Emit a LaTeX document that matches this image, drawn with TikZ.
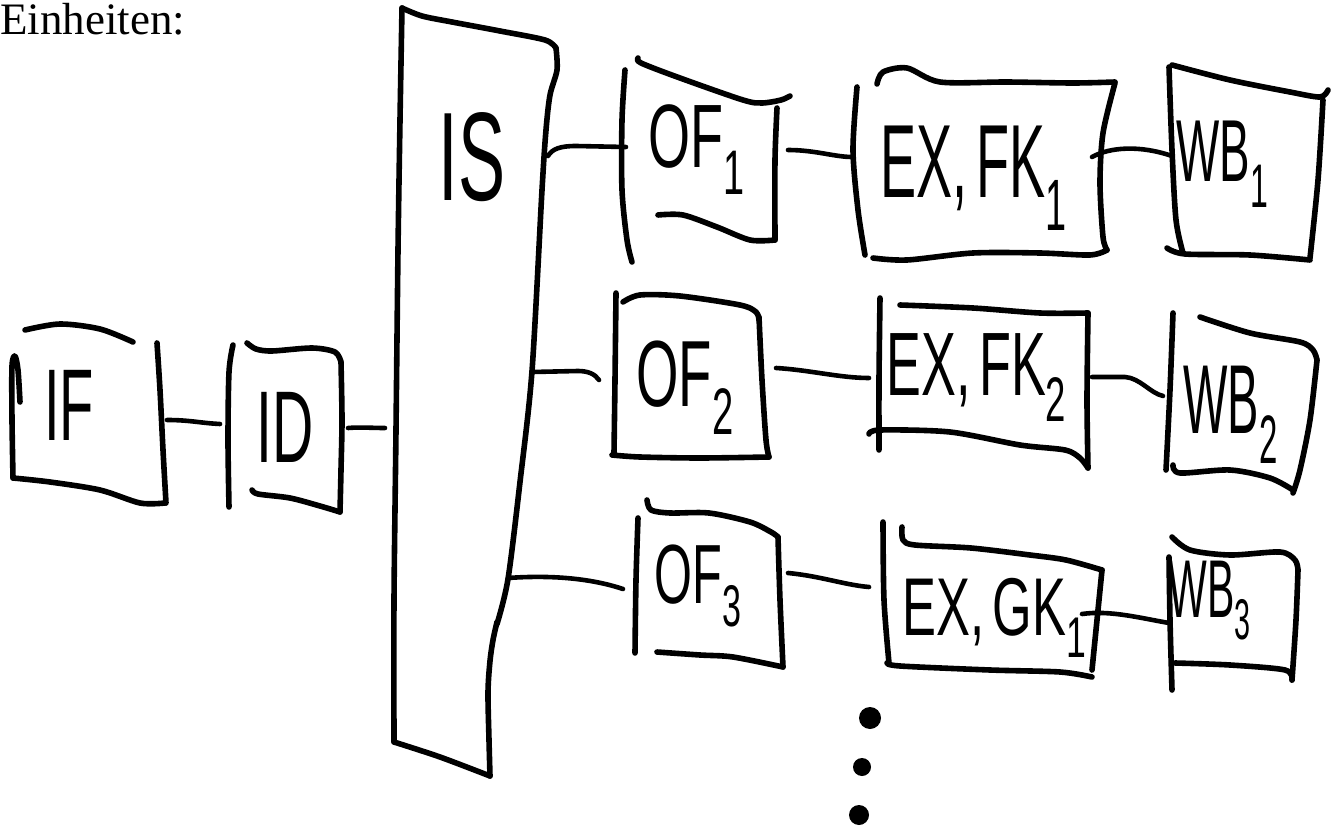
\documentclass[tikz,border=0pt]{standalone}
\usepackage{fontspec}
\setmainfont{Liberation Serif}
\newfontfamily\handfont{Liberation Sans}
\usetikzlibrary{fit}
\newcommand{\narrow}[2]{\scalebox{#1}[1]{#2}}

\tikzset{
  pen/.style={line width=2.8pt, line cap=round, line join=round},
  wire/.style={line width=2.3pt, line cap=round},
  area/.style={inner sep=0pt, outer sep=0pt, draw=none},
  hand/.style={font=\handfont\fontsize{#1}{#1}\selectfont, inner sep=0pt, anchor=base west},
}

\begin{document}
\begin{tikzpicture}[x=0.5pt,y=-0.5pt]
\useasboundingbox (0,0) rectangle (1334,829);

% heading
\node[anchor=base west, inner sep=0pt, font=\fontsize{22.5}{27}\selectfont] (head) at (0,35) {Einheiten:};

% ---------- logical areas of the units ----------
\node[area, fit={(12,325) (167,505)}]   (if)  {};
\node[area, fit={(220,343) (348,512)}]  (id)  {};
\node[area, fit={(385,8) (557,776)}]    (is)  {};
\node[area, fit={(626,58) (788,262)}]   (of1) {};
\node[area, fit={(852,70) (1092,262)}]  (ex1) {};
\node[area, fit={(1172,60) (1328,262)}] (wb1) {};
\node[area, fit={(599,292) (776,460)}]  (of2) {};
\node[area, fit={(869,298) (1092,470)}] (ex2) {};
\node[area, fit={(1163,313) (1317,493)}] (wb2) {};
\node[area, fit={(623,500) (788,667)}]  (of3) {};
\node[area, fit={(869,520) (1082,677)}] (ex3) {};
\node[area, fit={(1169,537) (1298,690)}] (wb3) {};

% ports on the slanted right side of the issue stage
\coordinate (is-r1) at (548,156);
\coordinate (is-r2) at (532,372);
\coordinate (is-r3) at (508,578);

% ---------- hand drawn outlines ----------
% IF
\draw[pen] plot[smooth] coordinates {(20,402) (18,370) (15,356) (12,366) (12,420) (13,478)};
\draw[pen] plot[smooth] coordinates {(13,478) (50,482) (100,490) (140,503) (165,503)};
\draw[pen] plot[smooth] coordinates {(157,343) (160,390) (163,450) (166,503)};
\draw[pen] plot[smooth] coordinates {(25,330) (60,324) (100,329) (133,342)};
% ID
\draw[pen] plot[smooth] coordinates {(233,345) (229,372) (228,440) (229,507)};
\draw[pen] plot[smooth] coordinates {(247,343) (256,349) (272,351) (312,348) (335,352) (341,362)};
\draw[pen] plot[smooth] coordinates {(341,362) (342,420) (341,470) (340,512)};
\draw[pen] plot[smooth] coordinates {(252,490) (258,494) (290,498) (320,506) (340,512)};
% IS
\draw[pen] plot[smooth] coordinates {(402,8) (422,16) (452,22) (500,31) (545,40) (556,48)};
\draw[pen] plot[smooth] coordinates {(556,48) (557,70) (550,95) (546,130) (542,190) (532,371) (520,482) (508,579) (497,624)};
\draw[pen] plot[smooth] coordinates {(497,622) (493,640) (490,661) (488,692) (489,740) (490,776)};
\draw[pen] plot[smooth] coordinates {(394,742) (440,757) (490,776)};
\draw[pen] plot[smooth] coordinates {(402,8) (400,120) (398,250) (396,430) (394,600) (394,742)};
% OF1
\draw[pen] plot[smooth] coordinates {(625,70) (622,120) (622,190) (627,240) (632,262)};
\draw[pen] plot[smooth] coordinates {(638,58) (641,63) (680,78) (743,100) (762,103) (781,100) (790,96)};
\draw[pen] plot[smooth] coordinates {(777,108) (775,160) (775,240)};
\draw[pen] plot[smooth] coordinates {(658,215) (683,215) (717,227) (750,240) (775,240)};
% EX,FK1
\draw[pen] plot[smooth] coordinates {(857,87) (853,150) (858,210) (865,255)};
\draw[pen] plot[smooth] coordinates {(877,84) (883,72) (907,68) (940,82) (1007,82) (1073,83) (1115,82)};
\draw[pen] plot[smooth] coordinates {(1115,83) (1103,133) (1100,183) (1103,237) (1107,250)};
\draw[pen] plot[smooth] coordinates {(873,258) (907,260) (973,253) (1040,253) (1090,255) (1107,250)};
% WB1
\draw[pen] plot[smooth] coordinates {(1169,67) (1172,150) (1176,220) (1183,253)};
\draw[pen] plot[smooth] coordinates {(1172,65) (1230,80) (1290,92) (1320,97) (1328,90)};
\draw[pen] plot[smooth] coordinates {(1323,100) (1318,180) (1310,258)};
\draw[pen] plot[smooth] coordinates {(1167,248) (1185,254) (1250,255) (1310,260)};
% OF2
\draw[pen] plot[smooth] coordinates {(616,293) (615,380) (614,453)};
\draw[pen] plot[smooth] coordinates {(623,302) (640,295) (680,296) (740,305) (756,312) (759,320)};
\draw[pen] plot[smooth] coordinates {(759,317) (762,380) (766,440) (769,457)};
\draw[pen] plot[smooth] coordinates {(612,455) (640,457) (700,458) (769,457)};
% EX,FK2
\draw[pen] plot[smooth] coordinates {(880,298) (879,380) (879,450)};
\draw[pen] plot[smooth] coordinates {(900,305) (973,308) (1040,313) (1088,313)};
\draw[pen] plot[smooth] coordinates {(1088,313) (1087,400) (1088,468)};
\draw[pen] plot[smooth] coordinates {(869,434) (880,430) (950,432) (1020,445) (1065,450) (1080,458) (1088,468)};
% WB2
\draw[pen] plot[smooth] coordinates {(1173,313) (1170,390) (1166,470)};
\draw[pen] plot[smooth] coordinates {(1200,317) (1250,333) (1300,342) (1313,350) (1317,360)};
\draw[pen] plot[smooth] coordinates {(1317,360) (1310,420) (1300,470) (1293,493)};
\draw[pen] plot[smooth] coordinates {(1173,465) (1180,473) (1230,470) (1270,478) (1293,490)};
% OF3
\draw[pen] plot[smooth] coordinates {(638,518) (636,580) (635,653)};
\draw[pen] plot[smooth] coordinates {(647,500) (651,510) (670,513) (709,513) (750,522) (771,532) (778,537)};
\draw[pen] plot[smooth] coordinates {(778,537) (780,600) (783,667)};
\draw[pen] plot[smooth] coordinates {(657,652) (700,655) (733,657) (783,667)};
% EX,GK1
\draw[pen] plot[smooth] coordinates {(883,522) (884,600) (889,663)};
\draw[pen] plot[smooth] coordinates {(902,527) (903,540) (915,545) (971,548) (1030,555) (1066,560) (1102,570)};
\draw[pen] plot[smooth] coordinates {(1102,570) (1097,620) (1092,670)};
\draw[pen] plot[smooth] coordinates {(887,663) (900,666) (990,670) (1060,672) (1092,677)};
% WB3
\draw[pen] plot[smooth] coordinates {(1169,557) (1170,620) (1172,690)};
\draw[pen] plot[smooth] coordinates {(1172,537) (1190,550) (1230,555) (1280,552) (1295,560) (1298,570)};
\draw[pen] plot[smooth] coordinates {(1298,570) (1296,620) (1292,680)};
\draw[pen] plot[smooth] coordinates {(1175,663) (1230,665) (1285,670) (1292,680)};

% ---------- labels ----------
\node[hand=51] (if-t)  at (44,440)   {\narrow{0.55}{IF}};
\node[hand=51] (id-t)  at (256,462)  {\narrow{0.56}{ID}};
\node[hand=63] (is-t)  at (438,200)  {\narrow{0.56}{IS}};
\node[hand=45] (of1-t) at (648,168)  {\narrow{0.6}{OF\textsubscript{1}}};
\node[hand=52] (ex1-t) at (880,198)  {\narrow{0.52}{EX,\,FK\textsubscript{1}}};
\node[hand=44] (wb1-t) at (1176,182) {\narrow{0.52}{WB\textsubscript{1}}};
\node[hand=47] (of2-t) at (636,406)  {\narrow{0.58}{OF\textsubscript{2}}};
\node[hand=45] (ex2-t) at (886,395)  {\narrow{0.58}{EX,\,FK\textsubscript{2}}};
\node[hand=49] (wb2-t) at (1183,433) {\narrow{0.48}{WB\textsubscript{2}}};
\node[hand=42] (of3-t) at (654,603)  {\narrow{0.58}{OF\textsubscript{3}}};
\node[hand=41] (ex3-t) at (902,635)  {\narrow{0.62}{EX,\,GK\textsubscript{1}}};
\node[hand=41] (wb3-t) at (1168,617) {\narrow{0.5}{WB\textsubscript{3}}};

% ---------- connections ----------
\draw[wire] (if.east |- 0,420) .. controls (190,420) and (200,423) .. (id.west |- 0,424);
\draw[wire] (id.east |- 0,428) .. controls (360,427) and (372,428) .. (is.west |- 0,428);
\draw[wire] (is-r1) .. controls (552,149) and (560,146) .. (576,146) -- (of1.west |- 0,147);
\draw[wire] (of1.east |- 0,150) .. controls (815,150) and (835,157) .. (ex1.west |- 0,157);
\draw[wire] (ex1.east |- 0,157) .. controls (1110,147) and (1140,145) .. (wb1.west |- 0,156);
\draw[wire] (is-r2) -- (578,371) .. controls (588,371) and (595,374) .. (of2.west |- 0,380);
\draw[wire] (of2.east |- 0,368) .. controls (810,370) and (840,378) .. (ex2.west |- 0,378);
\draw[wire] (ex2.east |- 0,377) -- (1125,377) .. controls (1140,378) and (1150,393) .. (wb2.west |- 0,396);
\draw[wire] (is-r3) .. controls (550,575) and (590,578) .. (of3.west |- 0,589);
\draw[wire] (of3.east |- 0,573) .. controls (820,576) and (845,585) .. (ex3.west |- 0,587);
\draw[wire] (ex3.east |- 0,614) .. controls (1110,610) and (1140,618) .. (wb3.west |- 0,623);

% ---------- continuation dots ----------
\fill (870,718) circle[radius=5.5pt];
\fill (862,767) circle[radius=4.5pt];
\fill (859,815) circle[radius=5pt];
\end{tikzpicture}
\end{document}
